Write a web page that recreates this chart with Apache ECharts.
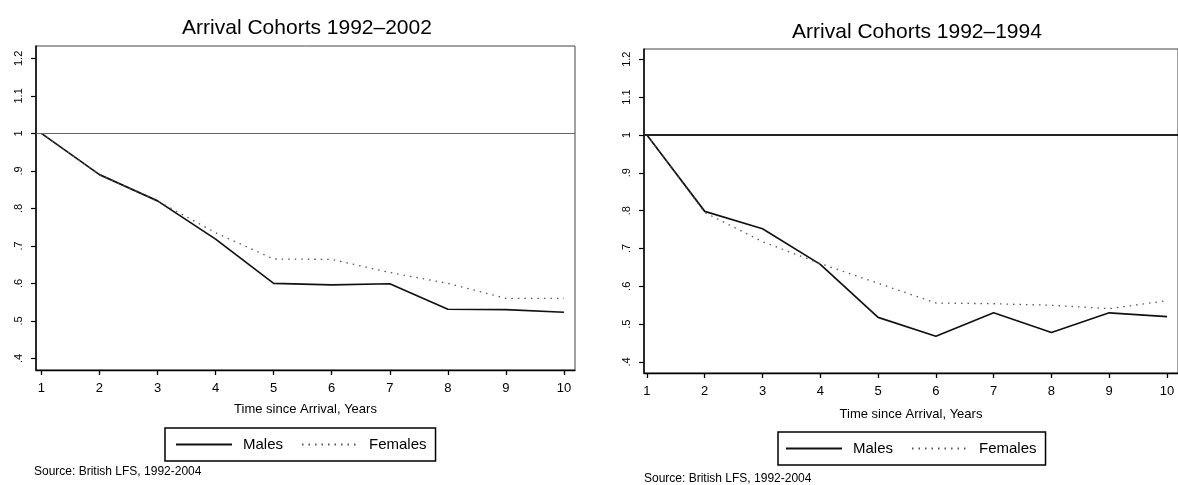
<!DOCTYPE html>
<html>
<head>
<meta charset="utf-8">
<script src="https://cdn.jsdelivr.net/npm/echarts@6/dist/echarts.min.js"></script>
<style>
  html, body { margin: 0; padding: 0; background: #fff; }
  #container { width: 1178px; height: 485px; }
</style>
</head>
<body>
<div id="container"></div>
<script>
// data
var years = [1, 2, 3, 4, 5, 6, 7, 8, 9, 10];
var malesAll = [1.0, 0.89, 0.82, 0.718, 0.600, 0.596, 0.599, 0.531, 0.530, 0.523];
var femalesAll = [1.0, 0.89, 0.82, 0.735, 0.665, 0.664, 0.629, 0.600, 0.560, 0.560];
var males9294 = [1.0, 0.798, 0.752, 0.658, 0.518, 0.468, 0.530, 0.478, 0.530, 0.520];
var females9294 = [1.0, 0.795, 0.718, 0.660, 0.608, 0.556, 0.554, 0.550, 0.541, 0.562];
var yTicks = [0.4, 0.5, 0.6, 0.7, 0.8, 0.9, 1.0, 1.1, 1.2];
var yTickLabels = ['.4', '.5', '.6', '.7', '.8', '.9', '1', '1.1', '1.2'];

var FONT = 'Liberation Sans, Arial, sans-serif';

var dom = document.getElementById('container');
var myChart = echarts.init(dom, null, { renderer: 'canvas' });

function pairs(ys) {
  return years.map(function (t, i) { return [t, ys[i]]; });
}

function yLabel(val) {
  var i = yTicks.findIndex(function (v) { return Math.abs(v - val) < 1e-6; });
  return i >= 0 ? yTickLabels[i] : '';
}

function xAxisFor(idx, min, gap) {
  return {
    type: 'value', gridIndex: idx, min: min, max: 10.19,
    name: 'Time since Arrival, Years', nameLocation: 'middle', nameGap: gap,
    nameTextStyle: { color: '#000', fontSize: 13, fontFamily: FONT },
    axisLine: { lineStyle: { color: '#000', width: 1.3 } },
    axisTick: { customValues: years, length: 5, lineStyle: { color: '#000', width: 1.3 } },
    axisLabel: { customValues: years, color: '#000', fontSize: 13, margin: 12, fontFamily: FONT },
    splitLine: { show: false }
  };
}

function yAxisFor(idx, min, max) {
  return {
    type: 'value', gridIndex: idx, min: min, max: max,
    axisLine: { show: true, lineStyle: { color: '#000', width: 1.5 } },
    axisTick: { show: true, customValues: yTicks, length: 5, lineStyle: { color: '#000', width: 1.2 } },
    axisLabel: { customValues: yTicks, rotate: 90, color: '#000', fontSize: 11, margin: 12,
      fontFamily: FONT, formatter: yLabel },
    splitLine: { show: false }
  };
}

var refLine = function (w, c) {
  return {
    silent: true, symbol: 'none', label: { show: false },
    lineStyle: { type: 'solid', color: c, width: w },
    data: [{ yAxis: 1 }]
  };
};

var maleStyle = { color: '#111', width: 1.7, type: 'solid' };
var femaleStyle = { color: '#555', width: 1.3, type: [1.5, 5] };

function legendAt(left, top, padLeft) {
  return {
    left: left, top: top, padding: [9, 9, 9, padLeft], itemWidth: 56, itemHeight: 14, itemGap: 18,
    borderColor: '#000', borderWidth: 1.5, selectedMode: false, data: ['Males', 'Females'],
    itemStyle: { color: 'transparent', borderWidth: 0, opacity: 0 },
    textStyle: { fontSize: 15, color: '#000', fontFamily: FONT, padding: [0, 0, 0, 6] }
  };
}

var option = {
  animation: false,
  backgroundColor: '#fff',
  title: [
    { text: 'Arrival Cohorts 1992\u20132002', left: 307, top: 18, padding: 0, textAlign: 'center',
      textStyle: { fontSize: 21, fontWeight: 'normal', color: '#000', fontFamily: FONT } },
    { text: 'Arrival Cohorts 1992\u20131994', left: 917, top: 22, padding: 0, textAlign: 'center',
      textStyle: { fontSize: 21, fontWeight: 'normal', color: '#000', fontFamily: FONT } },
    { text: 'Source: British LFS, 1992-2004', left: 34, top: 466, padding: 0,
      textStyle: { fontSize: 12, fontWeight: 'normal', color: '#000', fontFamily: FONT } },
    { text: 'Source: British LFS, 1992-2004', left: 644, top: 473, padding: 0,
      textStyle: { fontSize: 12, fontWeight: 'normal', color: '#000', fontFamily: FONT } }
  ],
  legend: [legendAt(165, 428, 10), legendAt(778, 432, 7)],
  grid: [
    { left: 36, top: 46, width: 539, height: 324, show: true, borderColor: '#444', borderWidth: 1, containLabel: false },
    { left: 644, top: 49, width: 542, height: 324, show: true, borderColor: '#444', borderWidth: 1, containLabel: false }
  ],
  xAxis: [xAxisFor(0, 0.907, 33), xAxisFor(1, 0.949, 35)],
  yAxis: [yAxisFor(0, 0.369, 1.233), yAxisFor(1, 0.371, 1.227)],
  series: [
    { name: 'Males', type: 'line', xAxisIndex: 0, yAxisIndex: 0, symbol: 'none',
      lineStyle: maleStyle, itemStyle: { color: '#111' }, data: pairs(malesAll),
      markLine: refLine(1.2, '#666') },
    { name: 'Females', type: 'line', xAxisIndex: 0, yAxisIndex: 0, symbol: 'none',
      lineStyle: femaleStyle, itemStyle: { color: '#555' }, data: pairs(femalesAll) },
    { name: 'Males', type: 'line', xAxisIndex: 1, yAxisIndex: 1, symbol: 'none',
      lineStyle: maleStyle, itemStyle: { color: '#111' }, data: pairs(males9294),
      markLine: refLine(1.8, '#222') },
    { name: 'Females', type: 'line', xAxisIndex: 1, yAxisIndex: 1, symbol: 'none',
      lineStyle: femaleStyle, itemStyle: { color: '#555' }, data: pairs(females9294) }
  ]
};

myChart.setOption(option);

window.addEventListener('resize', function () {
  myChart.resize();
});
</script>
</body>
</html>
